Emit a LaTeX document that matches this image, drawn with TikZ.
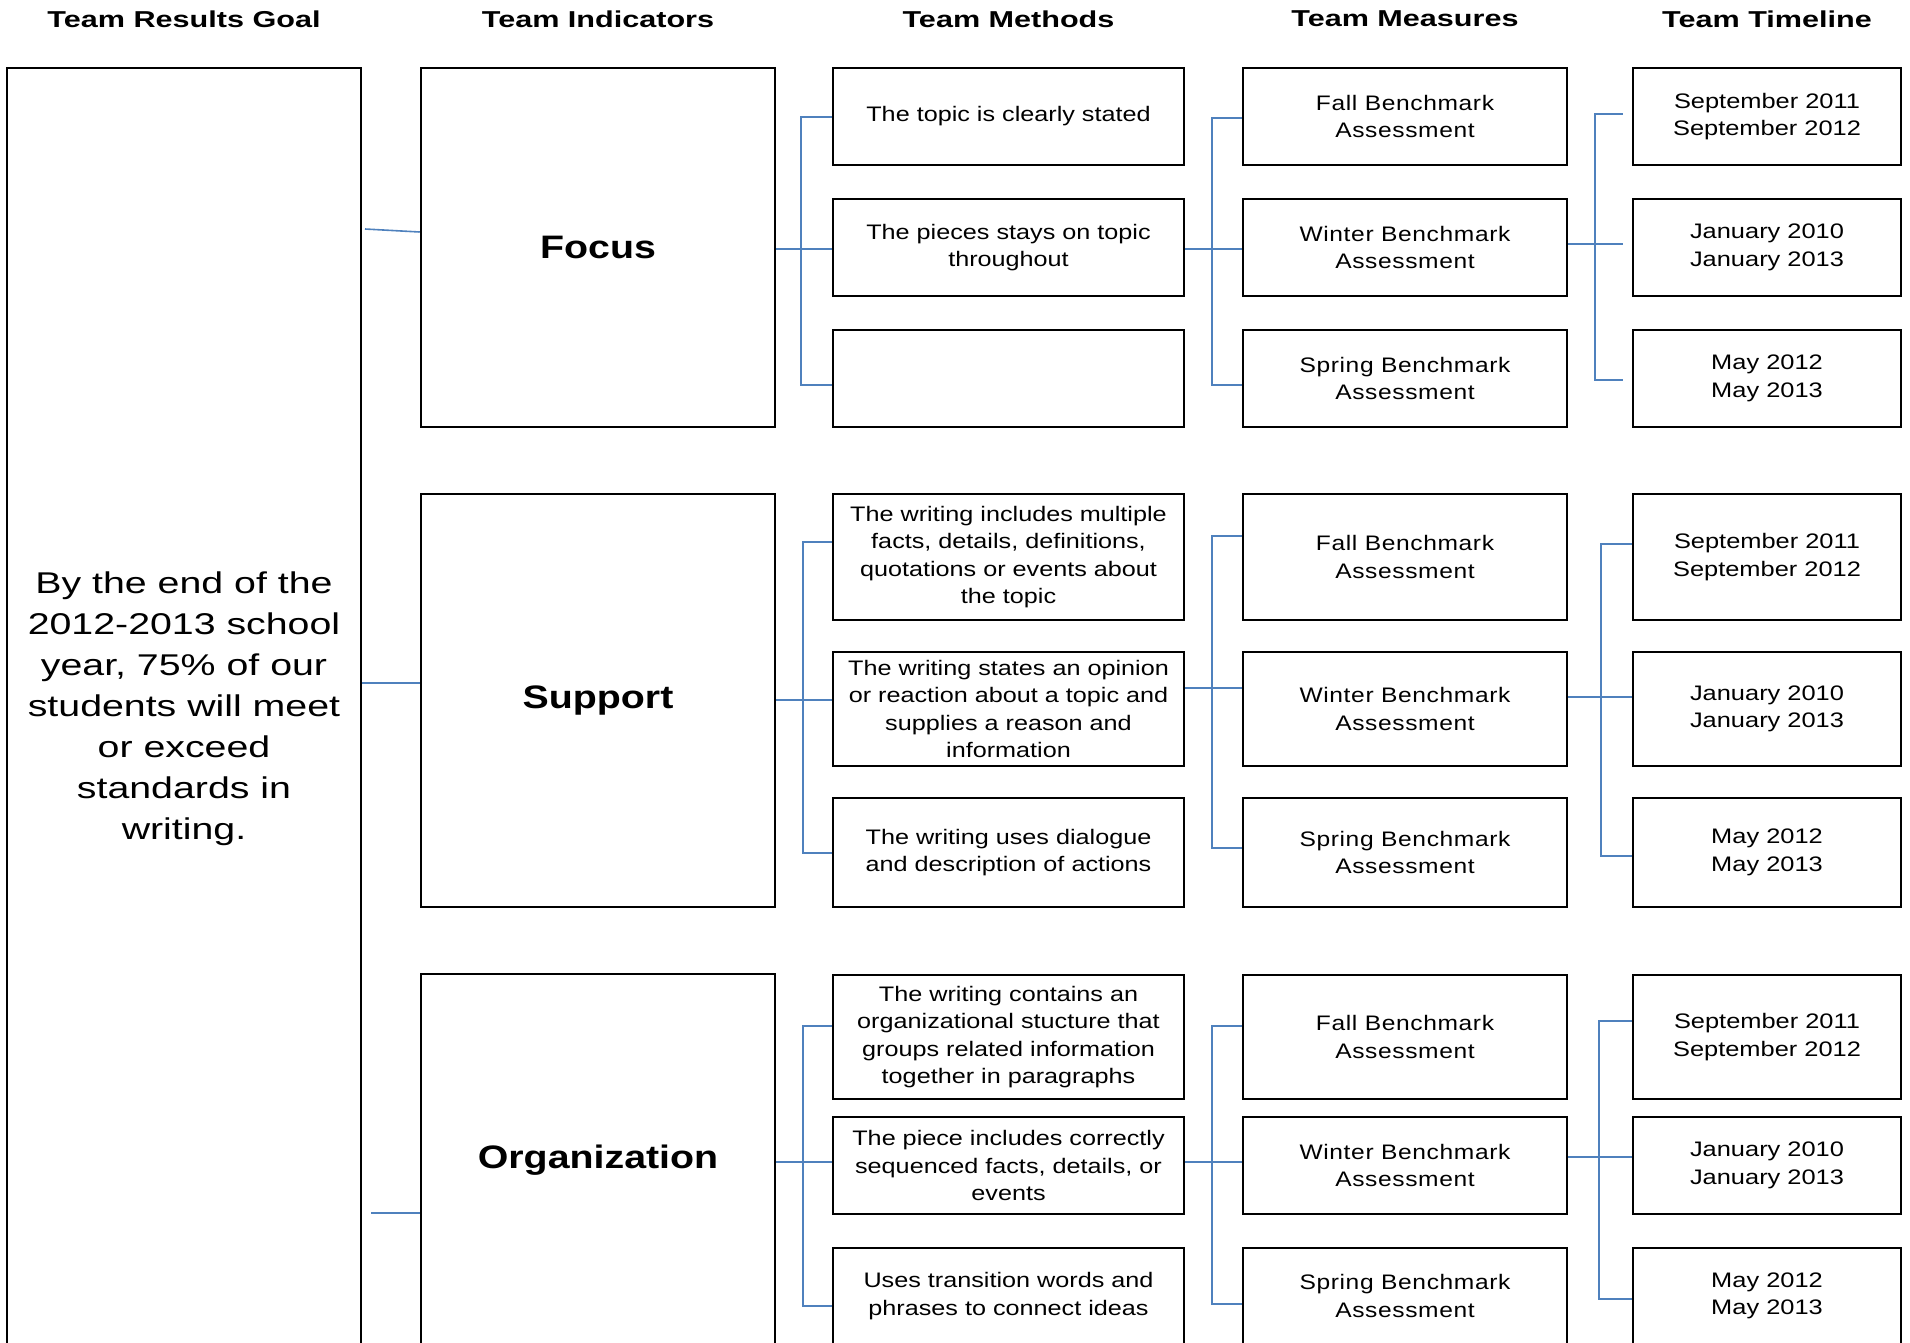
\documentclass[tikz,border=0pt]{standalone}
\usepackage{fontspec}
\setmainfont{Liberation Sans}
\newfontfamily\hdrfont[FakeStretch=1.33]{Liberation Sans}
\newfontfamily\goalfont[FakeStretch=1.31]{Liberation Sans}
\newfontfamily\indfont[FakeStretch=1.21]{Liberation Sans}
\newfontfamily\txtfont[FakeStretch=1.2]{Liberation Sans}
\newfontfamily\timefont[FakeStretch=1.21]{Liberation Sans}
\newfontfamily\measfont[FakeStretch=1.17,LetterSpace=3]{Liberation Sans}
\definecolor{connblue}{RGB}{79,129,189}
\begin{document}
\begin{tikzpicture}[x=1pt,y=-1pt,
  box/.style={draw=black, line width=2.5pt, inner sep=0pt, align=center},
  hdr/.style={font=\hdrfont\bfseries\fontsize{23}{28}\selectfont},
  goalbox/.style={box, font=\goalfont\fontsize{30}{41}\selectfont},
  indbox/.style={box, minimum width=354pt, font=\indfont\bfseries\fontsize{32.5}{39}\selectfont},
  methbox/.style={box, minimum width=351pt, font=\txtfont\fontsize{21}{27.4}\selectfont},
  measbox/.style={box, minimum width=324pt, font=\measfont\fontsize{21}{27.4}\selectfont},
  timebox/.style={box, minimum width=268pt, font=\timefont\fontsize{21}{27.4}\selectfont},
  conn/.style={draw=connblue, line width=1.6pt}]
\useasboundingbox (0,0) rectangle (1910,1342);
\clip (0,0) rectangle (1910,1342);
% headers
\node[hdr] (h1) at (184,19) {Team Results Goal};
\node[hdr] (h2) at (598,19) {Team Indicators};
\node[hdr] (h3) at (1008.5,19) {Team Methods};
\node[hdr] (h4) at (1405,19) {Team Measures};
\node[hdr] (h5) at (1767,19) {Team Timeline};
% goal
\node[goalbox, minimum width=354pt, minimum height=1282pt] (goal) at (184,709)
  {By the end of the\\2012-2013 school\\year, 75\% of our\\students will meet\\or exceed\\standards in\\writing.};
% indicators
\node[indbox, minimum height=359pt] (ind1) at (598,247.5) {Focus};
\node[indbox, minimum height=413pt] (ind2) at (598,700.5) {Support};
\node[indbox, minimum height=372pt] (ind3) at (598,1160) {Organization};
% methods
\node[methbox, minimum height=97pt] (m11) at (1008.5,116.5) {The topic is clearly stated};
\node[methbox, minimum height=97pt] (m12) at (1008.5,247.5) {The pieces stays on topic\\throughout};
\node[methbox, minimum height=97pt] (m13) at (1008.5,378.5) {};
\node[methbox, minimum height=126pt] (m21) at (1008.5,557) {The writing includes multiple\\facts, details, definitions,\\quotations or events about\\the topic};
\node[methbox, minimum height=114pt] (m22) at (1008.5,709) {The writing states an opinion\\or reaction about a topic and\\supplies a reason and\\information};
\node[methbox, minimum height=109pt] (m23) at (1008.5,852.5) {The writing uses dialogue\\and description of actions};
\node[methbox, minimum height=124pt] (m31) at (1008.5,1037) {The writing contains an\\organizational stucture that\\groups related information\\together in paragraphs};
\node[methbox, minimum height=97pt] (m32) at (1008.5,1165.5) {The piece includes correctly\\sequenced facts, details, or\\events};
\node[methbox, minimum height=96pt] (m33) at (1008.5,1296) {Uses transition words and\\phrases to connect ideas};
% measures
\node[measbox, minimum height=97pt] (s11) at (1405,116.5) {Fall Benchmark\\Assessment};
\node[measbox, minimum height=97pt] (s12) at (1405,247.5) {Winter Benchmark\\Assessment};
\node[measbox, minimum height=97pt] (s13) at (1405,378.5) {Spring Benchmark\\Assessment};
\node[measbox, minimum height=126pt] (s21) at (1405,557) {Fall Benchmark\\Assessment};
\node[measbox, minimum height=114pt] (s22) at (1405,709) {Winter Benchmark\\Assessment};
\node[measbox, minimum height=109pt] (s23) at (1405,852.5) {Spring Benchmark\\Assessment};
\node[measbox, minimum height=124pt] (s31) at (1405,1037) {Fall Benchmark\\Assessment};
\node[measbox, minimum height=97pt] (s32) at (1405,1165.5) {Winter Benchmark\\Assessment};
\node[measbox, minimum height=96pt] (s33) at (1405,1296) {Spring Benchmark\\Assessment};
% timeline
\node[timebox, minimum height=97pt] (t11) at (1767,116.5) {September 2011\\September 2012};
\node[timebox, minimum height=97pt] (t12) at (1767,247.5) {January 2010\\January 2013};
\node[timebox, minimum height=97pt] (t13) at (1767,378.5) {May 2012\\May 2013};
\node[timebox, minimum height=126pt] (t21) at (1767,557) {September 2011\\September 2012};
\node[timebox, minimum height=114pt] (t22) at (1767,709) {January 2010\\January 2013};
\node[timebox, minimum height=109pt] (t23) at (1767,852.5) {May 2012\\May 2013};
\node[timebox, minimum height=124pt] (t31) at (1767,1037) {September 2011\\September 2012};
\node[timebox, minimum height=97pt] (t32) at (1767,1165.5) {January 2010\\January 2013};
\node[timebox, minimum height=96pt] (t33) at (1767,1296) {May 2012\\May 2013};
% goal -> indicators
\coordinate (g1) at (365,229);
\coordinate (g3) at (371,1213);
\draw[conn] (g1) -- (ind1.west |- 0,232);
\draw[conn] (goal.east |- 0,683) -- (ind2.west |- 0,683);
\draw[conn] (g3) -- (ind3.west |- 0,1213);
% indicators -> methods
\draw[conn] (ind1.east |- 0,249) -- (m12.west |- 0,249);
\draw[conn] (m11.west |- 0,117) -- ++(-31,0) |- (m13.west |- 0,385);
\draw[conn] (ind2.east |- 0,700) -- (m22.west |- 0,700);
\draw[conn] (m21.west |- 0,542) -- ++(-29,0) |- (m23.west |- 0,853);
\draw[conn] (ind3.east |- 0,1162) -- (m32.west |- 0,1162);
\draw[conn] (m31.west |- 0,1026) -- ++(-29,0) |- (m33.west |- 0,1306);
% methods -> measures
\draw[conn] (m12.east |- 0,249) -- (s12.west |- 0,249);
\draw[conn] (s11.west |- 0,118) -- ++(-30,0) |- (s13.west |- 0,385);
\draw[conn] (m22.east |- 0,688) -- (s22.west |- 0,688);
\draw[conn] (s21.west |- 0,536) -- ++(-30,0) |- (s23.west |- 0,848);
\draw[conn] (m32.east |- 0,1162) -- (s32.west |- 0,1162);
\draw[conn] (s31.west |- 0,1026) -- ++(-30,0) |- (s33.west |- 0,1304);
% measures -> timeline
\draw[conn, shorten >=9pt] (s12.east |- 0,244) -- (t12.west |- 0,244);
\draw[conn, shorten <=9pt, shorten >=9pt] (t11.west |- 0,114) -- ++(-37,0) |- (t13.west |- 0,380);
\draw[conn] (s22.east |- 0,697) -- (t22.west |- 0,697);
\draw[conn] (t21.west |- 0,544) -- ++(-31,0) |- (t23.west |- 0,856);
\draw[conn] (s32.east |- 0,1157) -- (t32.west |- 0,1157);
\draw[conn] (t31.west |- 0,1021) -- ++(-33,0) |- (t33.west |- 0,1299);
\end{tikzpicture}
\end{document}
